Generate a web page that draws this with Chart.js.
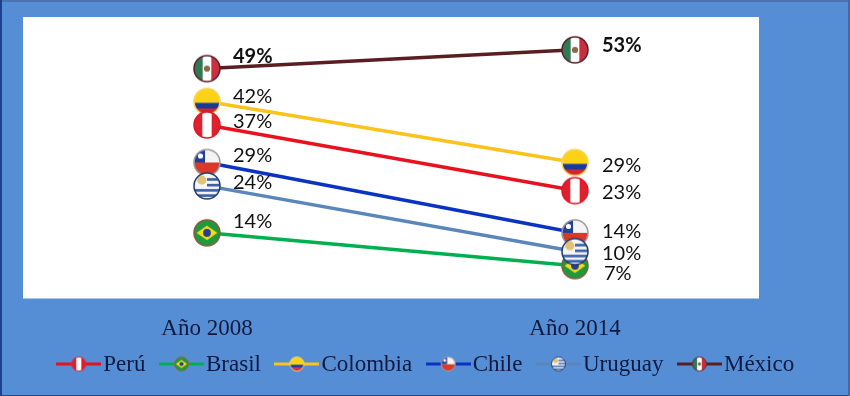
<!DOCTYPE html>
<html>
<head>
<meta charset="utf-8">
<title>Chart</title>
<script src="https://cdn.jsdelivr.net/npm/chart.js@4"></script>
<style>
    html, body { margin: 0; padding: 0; background: #558ed5; }
    #wrap { position: relative; width: 850px; height: 396px; }
</style>
</head>
<body>
<div id="wrap"><canvas id="chart" width="850" height="396"></canvas></div>
<script>
// Data
const years = ["Año 2008", "Año 2014"];
const peru = [37, 23];
const brasil = [14, 7];
const colombia = [42, 29];
const chile = [29, 14];
const uruguay = [24, 10];
const mexico = [49, 53];

const serif = '"Liberation Serif", serif';
const textBlue = "#101a3e";

// Flag icons used as point styles
function makeFlag(name, r) {
    const size = Math.ceil(r * 2 + 4);
    const c = document.createElement("canvas");
    c.width = size;
    c.height = size;
    const ctx = c.getContext("2d");
    paintFlag(ctx, name, size / 2, size / 2, r);
    return c;
}

function paintFlag(ctx, name, cx, cy, r) {
    const rings = { peru: "#d8182a", brasil: "#8c5a3c", colombia: "#f7d35a", chile: "#9a9aa0", uruguay: "#1f3a70", mexico: "#5a1f28" };
    ctx.save();
    ctx.beginPath();
    ctx.arc(cx, cy, r, 0, Math.PI * 2);
    ctx.fillStyle = "#fff";
    ctx.fill();
    ctx.clip();
    const x = cx - r, y = cy - r, d = r * 2;
    if (name === "peru") {
        ctx.fillStyle = "#e0202c";
        ctx.fillRect(x, y, d, d);
        ctx.fillStyle = "#fff";
        ctx.fillRect(x + d * 0.32, y, d * 0.36, d);
    } else if (name === "mexico") {
        ctx.fillStyle = "#2f7a55";
        ctx.fillRect(x, y, d / 3, d);
        ctx.fillStyle = "#c8303f";
        ctx.fillRect(x + d * 2 / 3, y, d / 3, d);
        ctx.fillStyle = "#8a6a45";
        ctx.beginPath();
        ctx.arc(cx, cy, r * 0.24, 0, Math.PI * 2);
        ctx.fill();
    } else if (name === "colombia") {
        ctx.fillStyle = "#fcd116";
        ctx.fillRect(x, y, d, d * 0.55);
        ctx.fillStyle = "#1b3a94";
        ctx.fillRect(x, y + d * 0.55, d, d * 0.22);
        ctx.fillStyle = "#d5222e";
        ctx.fillRect(x, y + d * 0.77, d, d * 0.23);
    } else if (name === "chile") {
        ctx.fillStyle = "#d8392b";
        ctx.fillRect(x, cy, d, r);
        ctx.fillStyle = "#f4f4f4";
        ctx.fillRect(cx - r * 0.2, y, r * 1.2, r);
        ctx.fillStyle = "#1f3f9a";
        ctx.fillRect(x, y, r * 0.85, r);
        ctx.fillStyle = "#fff";
        ctx.beginPath();
        ctx.arc(x + r * 0.5, y + r * 0.5, r * 0.2, 0, Math.PI * 2);
        ctx.fill();
    } else if (name === "uruguay") {
        ctx.fillStyle = "#f5f5f5";
        ctx.fillRect(x, y, d, d);
        ctx.fillStyle = "#3a5fa8";
        [0.2, 0.42, 0.62, 0.82].forEach((t, i) => {
            const left = i < 2 ? cx : x;
            ctx.fillRect(left, y + d * t, d, d * 0.1);
        });
        ctx.fillStyle = "#e3c275";
        ctx.beginPath();
        ctx.arc(x + r * 0.6, y + r * 0.55, r * 0.35, 0, Math.PI * 2);
        ctx.fill();
    } else if (name === "brasil") {
        ctx.fillStyle = "#1e9a3e";
        ctx.fillRect(x, y, d, d);
        ctx.fillStyle = "#f7d917";
        ctx.beginPath();
        ctx.moveTo(x + d * 0.1, cy);
        ctx.lineTo(cx, y + d * 0.22);
        ctx.lineTo(x + d * 0.9, cy);
        ctx.lineTo(cx, y + d * 0.78);
        ctx.closePath();
        ctx.fill();
        ctx.fillStyle = "#24408e";
        ctx.beginPath();
        ctx.arc(cx, cy, r * 0.3, 0, Math.PI * 2);
        ctx.fill();
    }
    ctx.restore();
    ctx.beginPath();
    ctx.arc(cx, cy, r, 0, Math.PI * 2);
    ctx.strokeStyle = rings[name];
    ctx.lineWidth = r > 9 ? 1.5 : 1;
    ctx.stroke();
}

// Legend symbol: short line with the small flag on top
function makeLegendIcon(name, color) {
    const c = document.createElement("canvas");
    c.width = 45;
    c.height = 18;
    const ctx = c.getContext("2d");
    ctx.fillStyle = color;
    ctx.fillRect(0, 7, 45, 3);
    paintFlag(ctx, name, 22.5, 8.5, 7);
    return c;
}

function series(label, flag, data, color, order, offsets, bold) {
    return {
        label: label,
        flag: flag,
        data: data,
        borderColor: color,
        backgroundColor: color,
        borderWidth: 3.5,
        tension: 0,
        order: order,
        pointStyle: makeFlag(flag, 13),
        pointRadius: 13,
        pointHoverRadius: 13,
        labelOffsets: offsets,
        labelBold: !!bold
    };
}

const datasets = [
    series("Perú", "peru", peru, "#e8121f", 1, [[26, -3], [27, 2]]),
    series("Brasil", "brasil", brasil, "#00b050", 5, [[26, -11], [29, 8]]),
    series("Colombia", "colombia", colombia, "#fbc31c", 4, [[26, -5], [27, 3]]),
    series("Chile", "chile", chile, "#0a33c2", 3, [[26, -7], [27, -1]]),
    series("Uruguay", "uruguay", uruguay, "#5b86ba", 2, [[26, -3], [27, 2]]),
    series("México", "mexico", mexico, "#5a1e22", 0, [[26, -12], [27, -4]], true)
];

// White plot panel and the thin frame of the slide
const panelPlugin = {
    id: "panel",
    beforeDraw(chart) {
        const { ctx, chartArea: a, width, height } = chart;
        ctx.save();
        ctx.fillStyle = "#558ed5";
        ctx.fillRect(0, 0, width, height);
        ctx.fillStyle = "#4a73b0";
        ctx.fillRect(0, 0, width, 2);
        ctx.fillStyle = "#1d3f8c";
        ctx.fillRect(0, 0, 2, height);
        ctx.fillStyle = "#274a85";
        ctx.fillRect(0, height - 1, width, 1);
        ctx.fillStyle = "#3f6aa8";
        ctx.fillRect(width - 2, 0, 2, height);
        ctx.fillStyle = "#fff";
        ctx.fillRect(a.left, a.top, a.right - a.left, a.bottom - a.top);
        ctx.restore();
    }
};

// Percent labels beside each flag
const valueLabels = {
    id: "valueLabels",
    afterDatasetsDraw(chart) {
        const ctx = chart.ctx;
        ctx.save();
        ctx.textAlign = "left";
        ctx.textBaseline = "middle";
        chart.data.datasets.forEach((ds, i) => {
            chart.getDatasetMeta(i).data.forEach((pt, j) => {
                ctx.font = (ds.labelBold ? "bold " : "") + "20px Lato";
                ctx.fillStyle = "#111";
                const off = ds.labelOffsets[j];
                ctx.fillText(ds.data[j] + "%", pt.x + off[0], pt.y + off[1]);
            });
        });
        ctx.restore();
    }
};

new Chart(document.getElementById("chart"), {
    type: "line",
    data: { labels: years, datasets: datasets },
    plugins: [panelPlugin, valueLabels],
    options: {
        responsive: false,
        animation: false,
        layout: { padding: { top: 17, bottom: 10, left: 10 } },
        scales: {
            x: {
                offset: true,
                grid: { display: false },
                border: { display: false },
                ticks: {
                    color: textBlue,
                    // mirror stops the labels being clipped to the short axis box
                    mirror: true,
                    padding: -44,
                    maxRotation: 0,
                    font: { family: serif, size: 23 }
                },
                afterFit(s) { s.height = 31.5; }
            },
            y: {
                min: 0,
                max: 60,
                grid: { display: false },
                border: { display: false },
                ticks: { display: false },
                afterFit(s) { s.width = 13; }
            },
            yRight: {
                position: "right",
                grid: { display: false },
                border: { display: false },
                ticks: { display: false },
                afterFit(s) { s.width = 91; }
            }
        },
        plugins: {
            tooltip: { enabled: false },
            legend: {
                position: "bottom",
                labels: {
                    usePointStyle: true,
                    pointStyleWidth: 26,
                    padding: 23,
                    color: textBlue,
                    font: { family: serif, size: 23 },
                    generateLabels(chart) {
                        return chart.data.datasets.map((ds, i) => ({
                            text: ds.label,
                            datasetIndex: i,
                            fontColor: textBlue,
                            lineWidth: 0,
                            strokeStyle: "rgba(0,0,0,0)",
                            pointStyle: makeLegendIcon(ds.flag, ds.borderColor)
                        }));
                    }
                }
            }
        }
    }
});
</script>
</body>
</html>
